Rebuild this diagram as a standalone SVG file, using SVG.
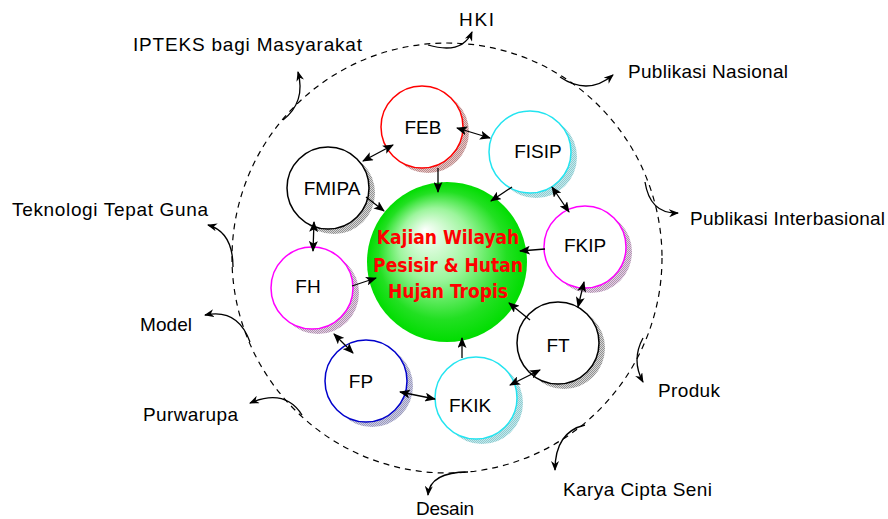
<svg xmlns="http://www.w3.org/2000/svg" width="888" height="519" viewBox="0 0 888 519">
<defs>
<style>
.lbl{font-family:"Liberation Sans",Arial,sans-serif;font-size:19px;fill:#000}
.nt{font-family:"Liberation Sans",Arial,sans-serif;font-size:19px;fill:#000;text-anchor:middle}
.ring{fill:#fff;stroke-width:1.5}
.ln{stroke:#000;stroke-width:1.3;fill:none}
.cv{stroke:#000;stroke-width:1.3;fill:none;marker-end:url(#ca)}
.ct{font-family:"DejaVu Sans Condensed","DejaVu Sans",sans-serif;font-weight:bold;font-size:19px;fill:#ff0000;text-anchor:middle}
</style>
<marker id="ah" markerUnits="userSpaceOnUse" markerWidth="11" markerHeight="9" refX="10" refY="4.5" orient="auto-start-reverse" viewBox="0 0 11 9">
<path d="M0,0 L11,4.5 L0,9 L2.5,4.5 z" fill="#000"/>
</marker>
<marker id="ca" markerUnits="userSpaceOnUse" markerWidth="10" markerHeight="8" refX="9" refY="4" orient="auto" viewBox="0 0 10 8">
<path d="M0,0 L10,4 L0,8 L3,4 z" fill="#000"/>
</marker>
<radialGradient id="g" cx="0.5" cy="0.5" r="0.5" fx="0.36" fy="0.3">
<stop offset="0" stop-color="#ffffff"/>
<stop offset="0.45" stop-color="#9cf59c"/>
<stop offset="0.8" stop-color="#22e022"/>
<stop offset="1" stop-color="#00dd00"/>
</radialGradient>
<pattern id="pr" width="2" height="2" patternUnits="userSpaceOnUse"><rect width="2" height="2" fill="#f0c0c0"/><rect width="1" height="1" fill="#b09090"/><rect x="1" y="1" width="1" height="1" fill="#b09090"/></pattern>
<pattern id="pc" width="2" height="2" patternUnits="userSpaceOnUse"><rect width="2" height="2" fill="#b8f0f4"/><rect width="1" height="1" fill="#9cc4c8"/><rect x="1" y="1" width="1" height="1" fill="#9cc4c8"/></pattern>
<pattern id="pk" width="2" height="2" patternUnits="userSpaceOnUse"><rect width="2" height="2" fill="#d8d8d8"/><rect width="1" height="1" fill="#909090"/><rect x="1" y="1" width="1" height="1" fill="#909090"/></pattern>
<pattern id="pm" width="2" height="2" patternUnits="userSpaceOnUse"><rect width="2" height="2" fill="#ecc4ec"/><rect width="1" height="1" fill="#a8a0a8"/><rect x="1" y="1" width="1" height="1" fill="#a8a0a8"/></pattern>
<pattern id="pb" width="2" height="2" patternUnits="userSpaceOnUse"><rect width="2" height="2" fill="#c8c8f0"/><rect width="1" height="1" fill="#a0a0b0"/><rect x="1" y="1" width="1" height="1" fill="#a0a0b0"/></pattern>
</defs>
<rect width="888" height="519" fill="#fff"/>

<g id="boundary">
<circle cx="447" cy="258" r="215" fill="none" stroke="#000" stroke-width="1.2" stroke-dasharray="6 5"/>
</g>

<g id="node-center">
<circle cx="447" cy="262" r="80" fill="url(#g)"/>
<text class="ct" x="448" y="244">Kajian Wilayah</text>
<text class="ct" x="448" y="272">Pesisir &amp; Hutan</text>
<text class="ct" x="448" y="298">Hujan Tropis</text>
</g>

<g id="node-feb">
<circle cx="428" cy="132" r="41" fill="url(#pr)"/>
<circle class="ring" cx="422" cy="127" r="41" stroke="#ff0000"/>
<text class="nt" x="423" y="134">FEB</text>
</g>
<g id="node-fisip">
<circle cx="536" cy="157" r="41" fill="url(#pc)"/>
<circle class="ring" cx="530" cy="152" r="41" stroke="#22e4f0"/>
<text class="nt" x="538" y="158">FISIP</text>
</g>
<g id="node-fkip">
<circle cx="591" cy="252" r="41" fill="url(#pm)"/>
<circle class="ring" cx="585" cy="247" r="41" stroke="#ff00ff"/>
<text class="nt" x="585" y="252">FKIP</text>
</g>
<g id="node-ft">
<circle cx="564" cy="348" r="41" fill="url(#pk)"/>
<circle class="ring" cx="558" cy="343" r="41" stroke="#000"/>
<text class="nt" x="558" y="352">FT</text>
</g>
<g id="node-fkik">
<circle cx="482" cy="403" r="41" fill="url(#pc)"/>
<circle class="ring" cx="476" cy="398" r="41" stroke="#22e4f0"/>
<text class="nt" x="470" y="412">FKIK</text>
</g>
<g id="node-fp">
<circle cx="372" cy="386" r="41" fill="url(#pb)"/>
<circle class="ring" cx="366" cy="381" r="41" stroke="#0000cc"/>
<text class="nt" x="361" y="388">FP</text>
</g>
<g id="node-fh">
<circle cx="318" cy="293" r="41" fill="url(#pm)"/>
<circle class="ring" cx="312" cy="288" r="41" stroke="#ff00ff"/>
<text class="nt" x="308" y="293">FH</text>
</g>
<g id="node-fmipa">
<circle cx="334" cy="193" r="41" fill="url(#pk)"/>
<circle class="ring" cx="328" cy="188" r="41" stroke="#000"/>
<text class="nt" x="332" y="195">FMIPA</text>
</g>

<g id="connectors">
<path class="ln" marker-end="url(#ah)" d="M438,168 L438,192"/>
<path class="ln" marker-end="url(#ah)" d="M512,187 L491,201"/>
<path class="ln" marker-end="url(#ah)" d="M545,249 L520,251"/>
<path class="ln" marker-end="url(#ah)" d="M530,320 L509,303"/>
<path class="ln" marker-end="url(#ah)" d="M462,358 L462,338"/>
<path class="ln" marker-end="url(#ah)" d="M352,286 L376,278"/>
<path class="ln" marker-end="url(#ah)" d="M366,197 L384,211"/>

<path class="ln" marker-start="url(#ah)" marker-end="url(#ah)" d="M457,128 L490,138"/>
<path class="ln" marker-start="url(#ah)" marker-end="url(#ah)" d="M363,161 L393,145"/>
<path class="ln" marker-start="url(#ah)" marker-end="url(#ah)" d="M552,187 L569,212"/>
<path class="ln" marker-start="url(#ah)" marker-end="url(#ah)" d="M584,282 L578,307"/>
<path class="ln" marker-start="url(#ah)" marker-end="url(#ah)" d="M540,370 L510,385"/>
<path class="ln" marker-start="url(#ah)" marker-end="url(#ah)" d="M400,392 L435,399"/>
<path class="ln" marker-start="url(#ah)" marker-end="url(#ah)" d="M334,334 L353,353"/>
<path class="ln" marker-start="url(#ah)" marker-end="url(#ah)" d="M314,222 L313,251"/>

<path class="cv" d="M428,45 Q462,55 472,32"/>
<path class="cv" d="M283,120 Q306,102 298,72"/>
<path class="cv" d="M560,77 Q588,96 613,75"/>
<path class="cv" d="M645,182 Q650,214 678,213"/>
<path class="cv" d="M643,338 Q631,360 643,382"/>
<path class="cv" d="M585,425 Q555,432 555,470"/>
<path class="cv" d="M468,472 Q430,472 428,495"/>
<path class="cv" d="M302,415 Q285,388 250,403"/>
<path class="cv" d="M250,342 Q238,308 205,315"/>
<path class="cv" d="M233,267 Q233,232 208,225"/>
</g>

<g id="labels">
<text class="lbl" x="459" y="26" textLength="35">HKI</text>
<text class="lbl" x="133" y="51" textLength="229">IPTEKS bagi Masyarakat</text>
<text class="lbl" x="628" y="78" textLength="160">Publikasi Nasional</text>
<text class="lbl" x="690" y="225" textLength="195">Publikasi Interbasional</text>
<text class="lbl" x="658" y="397" textLength="62">Produk</text>
<text class="lbl" x="563" y="496" textLength="149">Karya Cipta Seni</text>
<text class="lbl" x="416" y="515" textLength="58">Desain</text>
<text class="lbl" x="143" y="421" textLength="95">Purwarupa</text>
<text class="lbl" x="140" y="331" textLength="52">Model</text>
<text class="lbl" x="12" y="216" textLength="196">Teknologi Tepat Guna</text>
</g>
</svg>
